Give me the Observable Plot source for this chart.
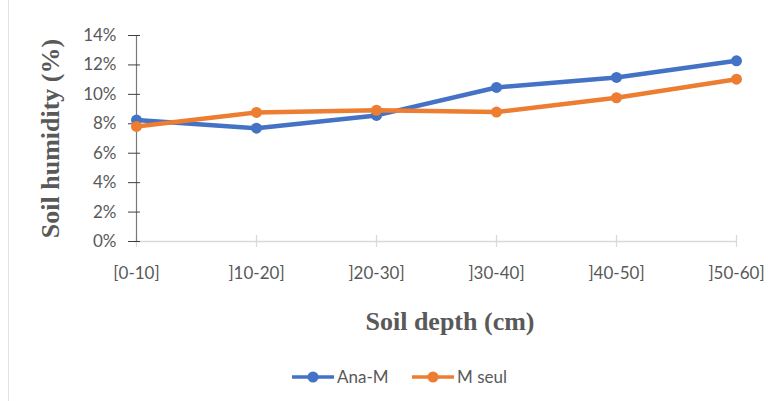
<!DOCTYPE html>
<html>
<head>
<meta charset="utf-8">
<script src="https://cdn.jsdelivr.net/npm/d3@7"></script>
<script src="https://cdn.jsdelivr.net/npm/@observablehq/plot@0.6"></script>
<style>
  html, body { margin: 0; padding: 0; background: #fff; }
  #wrap { position: relative; width: 779px; height: 401px; overflow: hidden; }
  #edge { position: absolute; left: 8px; top: 0; width: 1px; height: 401px; background: #e3e3e3; }
  #chart { position: absolute; left: 0; top: 0; }
  #legend { position: absolute; left: 0; top: 350px; width: 779px; height: 51px; }
</style>
</head>
<body>
<div id="wrap"><div id="edge"></div><div id="chart"></div><div id="legend"></div></div>
<script>
const depths = ["[0-10]", "]10-20]", "]20-30]", "]30-40]", "]40-50]", "]50-60]"];
const seriesNames = ["Ana-M", "M seul"];
const anaM = [0.0825, 0.0770, 0.0857, 0.1047, 0.1115, 0.1228];
const mSeul = [0.0782, 0.0877, 0.0892, 0.0880, 0.0977, 0.1103];
const yTicks = [0, 0.02, 0.04, 0.06, 0.08, 0.10, 0.12, 0.14];
const colors = ["#4472C4", "#ED7D31"];

const rows = [];
depths.forEach((d, i) => {
  rows.push({depth: d, series: seriesNames[0], value: anaM[i]});
  rows.push({depth: d, series: seriesNames[1], value: mSeul[i]});
});

const labelFont = "Lato, 'Open Sans', sans-serif";
const titleFont = "'Liberation Serif', 'DejaVu Serif', serif";

const plot = Plot.plot({
  width: 779,
  height: 350,
  marginLeft: 134,
  marginRight: 42,
  marginTop: 35,
  marginBottom: 109,
  style: {background: "transparent", overflow: "visible"},
  x: {type: "point", domain: depths, padding: 0},
  y: {domain: [0, 0.14]},
  color: {domain: seriesNames, range: colors},
  marks: [
    Plot.ruleY([0], {stroke: "#d9d9d9", strokeWidth: 1.3}),
    Plot.axisX({tickSize: 12, dy: -6, tickPadding: 19, stroke: "#d9d9d9", strokeWidth: 1.3, fill: "#595959", fontSize: 17, fontFamily: labelFont, label: null}),
    Plot.ruleX([depths[0]], {y1: 0, y2: 0.14, stroke: "#7a7a7a", strokeWidth: 1.2}),
    Plot.axisY({ticks: yTicks, tickSize: 12, dx: 6, tickPadding: 12, stroke: "#404040", fill: "#595959", fontSize: 17, fontFamily: labelFont, tickFormat: d => Math.round(d * 100) + "%", label: null}),
    Plot.line(rows, {x: "depth", y: "value", z: "series", stroke: "series", strokeWidth: 4.5, strokeLinecap: "round", strokeLinejoin: "round"}),
    Plot.dot(rows, {x: "depth", y: "value", fill: "series", r: 5.5, stroke: "none"}),
    Plot.text(["Soil depth (cm)"], {frameAnchor: "bottom", lineAnchor: "middle", textAnchor: "middle", dy: 80, dx: 14, fontSize: 26, fontWeight: "bold", fontFamily: titleFont, fill: "#595959"}),
    Plot.text(["Soil humidity (%)"], {frameAnchor: "left", lineAnchor: "middle", textAnchor: "middle", dx: -84, rotate: -90, fontSize: 26, fontWeight: "bold", fontFamily: titleFont, fill: "#595959"})
  ]
});
document.getElementById("chart").appendChild(plot);

// legend
const lg = d3.select("#legend").append("svg").attr("width", 779).attr("height", 51);
const items = [{x: 292}, {x: 412}];
seriesNames.forEach((name, i) => {
  const g = lg.append("g").attr("transform", `translate(${items[i].x},27)`);
  g.append("line").attr("x1", 0).attr("x2", 42).attr("stroke", colors[i]).attr("stroke-width", 3.5);
  g.append("circle").attr("cx", 21).attr("r", 5.5).attr("fill", colors[i]);
  g.append("text").attr("x", 45).attr("dy", "0.35em").attr("fill", "#595959")
    .style("font", `17px ${labelFont}`).text(name);
});
</script>
</body>
</html>
